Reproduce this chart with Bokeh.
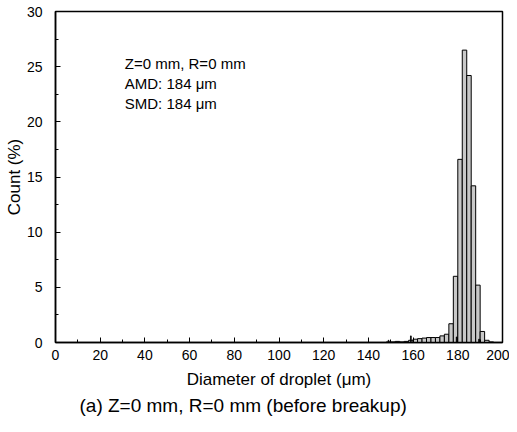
from bokeh.plotting import figure
from bokeh.models import Range1d, Label, Title, FixedTicker
from bokeh.embed import file_html
from bokeh.resources import INLINE

# Data: bin centres (µm) and counts (%)
diam = [149, 151, 153, 155, 157, 159, 161, 163, 165, 167, 169, 171, 173, 175, 177,
        179, 181, 183, 185, 187, 189, 191, 193, 195]
count = [0.05, 0.05, 0.1, 0.05, 0.1, 0.2, 0.3, 0.35, 0.4, 0.45, 0.45, 0.45, 0.6, 0.75, 1.7,
         6.0, 16.6, 26.5, 24.2, 14.2, 5.2, 1.0, 0.2, 0.05]
spike_x = [149, 159, 179.5, 189.5]
spike_y = [0.2, 0.6, 0.5, 0.3]

x_ticks = [0, 20, 40, 60, 80, 100, 120, 140, 160, 180, 200]
y_ticks = [0, 5, 10, 15, 20, 25, 30]
info_lines = ["Z=0 mm, R=0 mm", "AMD: 184 \u03bcm", "SMD: 184 \u03bcm"]
info_y = [25.3, 23.5, 21.7]
caption = "(a) Z=0 mm, R=0 mm (before breakup)"

FONT = "Liberation Sans"

p = figure(width=509, height=420, output_backend="svg", toolbar_location=None,
           x_range=Range1d(0, 200), y_range=Range1d(0, 30),
           min_border_left=55, min_border_right=7, min_border_top=11, min_border_bottom=78)
p.grid.visible = False
p.outline_line_color = "black"
p.outline_line_width = 1.5
p.background_fill_color = "white"
p.border_fill_color = "white"

p.vbar(x=diam, top=count, width=2, bottom=0, fill_color="#c8c8c8", line_color="black", line_width=1)
p.vbar(x=spike_x, top=spike_y, width=0.35, bottom=0, fill_color="black", line_color="black", line_width=0.8)

for ax in (p.xaxis[0], p.yaxis[0]):
    ax.axis_line_width = 1.5
    ax.major_tick_in = 5
    ax.major_tick_out = 0
    ax.minor_tick_in = 3
    ax.minor_tick_out = 0
    ax.major_label_text_font = FONT
    ax.major_label_text_font_size = "14px"
    ax.major_label_text_color = "black"
    ax.axis_label_text_font = FONT
    ax.axis_label_text_font_size = "17px"
    ax.axis_label_text_font_style = "normal"
    ax.axis_label_text_color = "black"

p.xaxis.ticker = FixedTicker(ticks=x_ticks, minor_ticks=list(range(0, 201, 10)))
p.yaxis.ticker = FixedTicker(ticks=y_ticks, minor_ticks=[i * 2.5 for i in range(13)])
p.xaxis.axis_label = "Diameter of droplet (\u03bcm)"
p.yaxis.axis_label = "Count (%)"
p.xaxis.major_label_standoff = 7
p.yaxis.major_label_standoff = 13
p.xaxis.axis_label_standoff = 7
p.yaxis.axis_label_standoff = 0

for t, yy in zip(info_lines, info_y):
    p.add_layout(Label(x=31, y=yy, text=t, text_font=FONT, text_font_size="15px",
                       text_baseline="middle", text_color="black"))

p.add_layout(Title(text=caption, align="left", offset=24, text_font=FONT,
                   text_font_size="19px", text_font_style="normal", text_color="black",
                   standoff=2), "below")

open("out.html", "w").write(file_html(p, INLINE))
